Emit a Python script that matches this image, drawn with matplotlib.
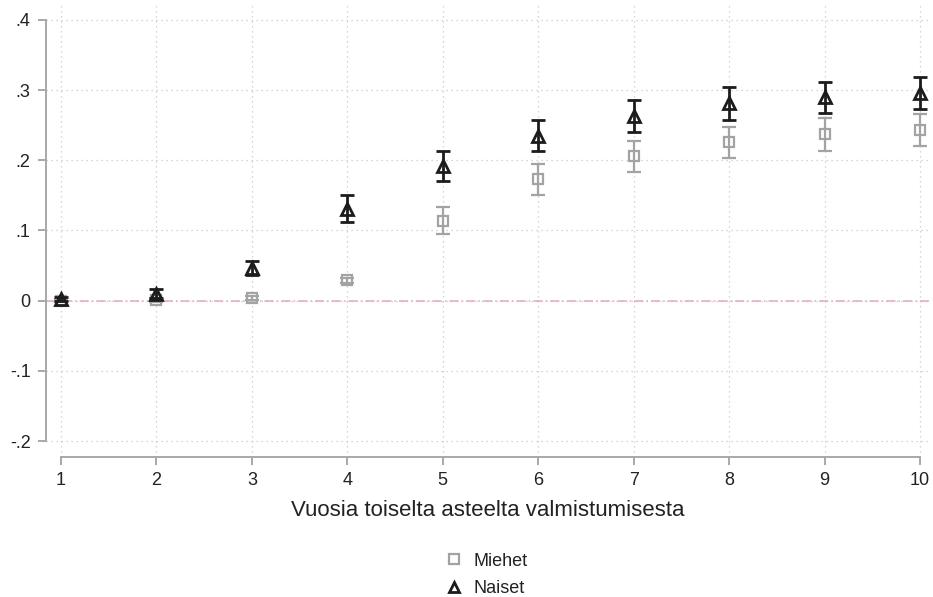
import matplotlib
matplotlib.use("Agg")
import matplotlib.pyplot as plt
from matplotlib.lines import Line2D

plt.rcParams['font.family'] = ['Liberation Sans', 'DejaVu Sans']

years = [1, 2, 3, 4, 5, 6, 7, 8, 9, 10]
miehet = [0.0, 0.001, 0.004, 0.029, 0.114, 0.173, 0.206, 0.226, 0.237, 0.243]
miehet_err = [0.002, 0.003, 0.003, 0.004, 0.019, 0.022, 0.022, 0.022, 0.023, 0.023]
naiset = [0.002, 0.010, 0.047, 0.131, 0.192, 0.235, 0.263, 0.281, 0.290, 0.296]
naiset_err = [0.003, 0.006, 0.010, 0.019, 0.021, 0.022, 0.023, 0.023, 0.022, 0.023]
yticks = [-0.2, -0.1, 0.0, 0.1, 0.2, 0.3, 0.4]
ytick_labels = ['-.2', '-.1', '0', '.1', '.2', '.3', '.4']
xlabel = 'Vuosia toiselta asteelta valmistumisesta'
legend_labels = ['Miehet', 'Naiset']

W, H = 933, 597
fig = plt.figure(figsize=(W / 100, H / 100), dpi=100)
ax_l, ax_r, ax_t, ax_b = 46, 930, 2, 457
ax = fig.add_axes([ax_l / W, 1 - ax_b / H, (ax_r - ax_l) / W, (ax_b - ax_t) / H])

px_x = (920 - 61) / 9
px_y = (441 - 20) / 0.6
ax.set_xlim(1 - (61 - ax_l) / px_x, 10 + (ax_r - 920) / px_x)
ax.set_ylim(-0.2 - (ax_b - 441) / px_y, 0.4 + (20 - ax_t) / px_y)

gray = '#a3a3a3'
black = '#1c1c1c'

# grid
for y in yticks:
    ax.axhline(y, color='#c8c8c8', lw=0.9, ls=(0, (1, 3)), zorder=0)
for x in years:
    ax.axvline(x, color='#c8c8c8', lw=0.9, ls=(0, (1, 3)), zorder=0)
ax.axhline(0, color='#e2a9bd', lw=1.1, ls=(0, (6, 2, 1, 2)), zorder=1)

ax.errorbar(years, miehet, yerr=miehet_err, fmt='s', ms=7.5, mfc='none', mec=gray,
            mew=1.6, ecolor=gray, elinewidth=1.6, capsize=5, capthick=1.6, zorder=3)
ax.errorbar(years, naiset, yerr=naiset_err, fmt='^', ms=8, mfc='none', mec=black,
            mew=2.0, ecolor=black, elinewidth=2.0, capsize=5, capthick=2.0, zorder=4)

for s in ['top', 'right']:
    ax.spines[s].set_visible(False)
for s in ['left', 'bottom']:
    ax.spines[s].set_color('#a8a8a8')
    ax.spines[s].set_linewidth(1.4)
ax.spines['left'].set_bounds(-0.2, 0.4)
ax.spines['bottom'].set_bounds(1, 10)

ax.set_yticks(yticks)
ax.set_yticklabels(ytick_labels)
ax.set_xticks(years)
ax.tick_params(axis='both', colors='#a8a8a8', length=6, width=1.4, labelcolor='#222222',
               labelsize=13)
ax.tick_params(axis='y', pad=5)
ax.tick_params(axis='x', pad=5)
ax.set_xlabel(xlabel, fontsize=16, color='#222222', labelpad=8)

handles = [Line2D([], [], marker='s', ls='none', ms=7, mfc='none', mec=gray, mew=1.6),
           Line2D([], [], marker='^', ls='none', ms=7, mfc='none', mec=black, mew=2.0)]
fig.legend(handles, legend_labels, loc='center', bbox_to_anchor=(487 / W, 1 - 575 / H),
           frameon=False, fontsize=13, handlelength=0.8, handletextpad=0.7,
           labelspacing=0.6, labelcolor='#222222')

fig.savefig('out.png', dpi=100)
